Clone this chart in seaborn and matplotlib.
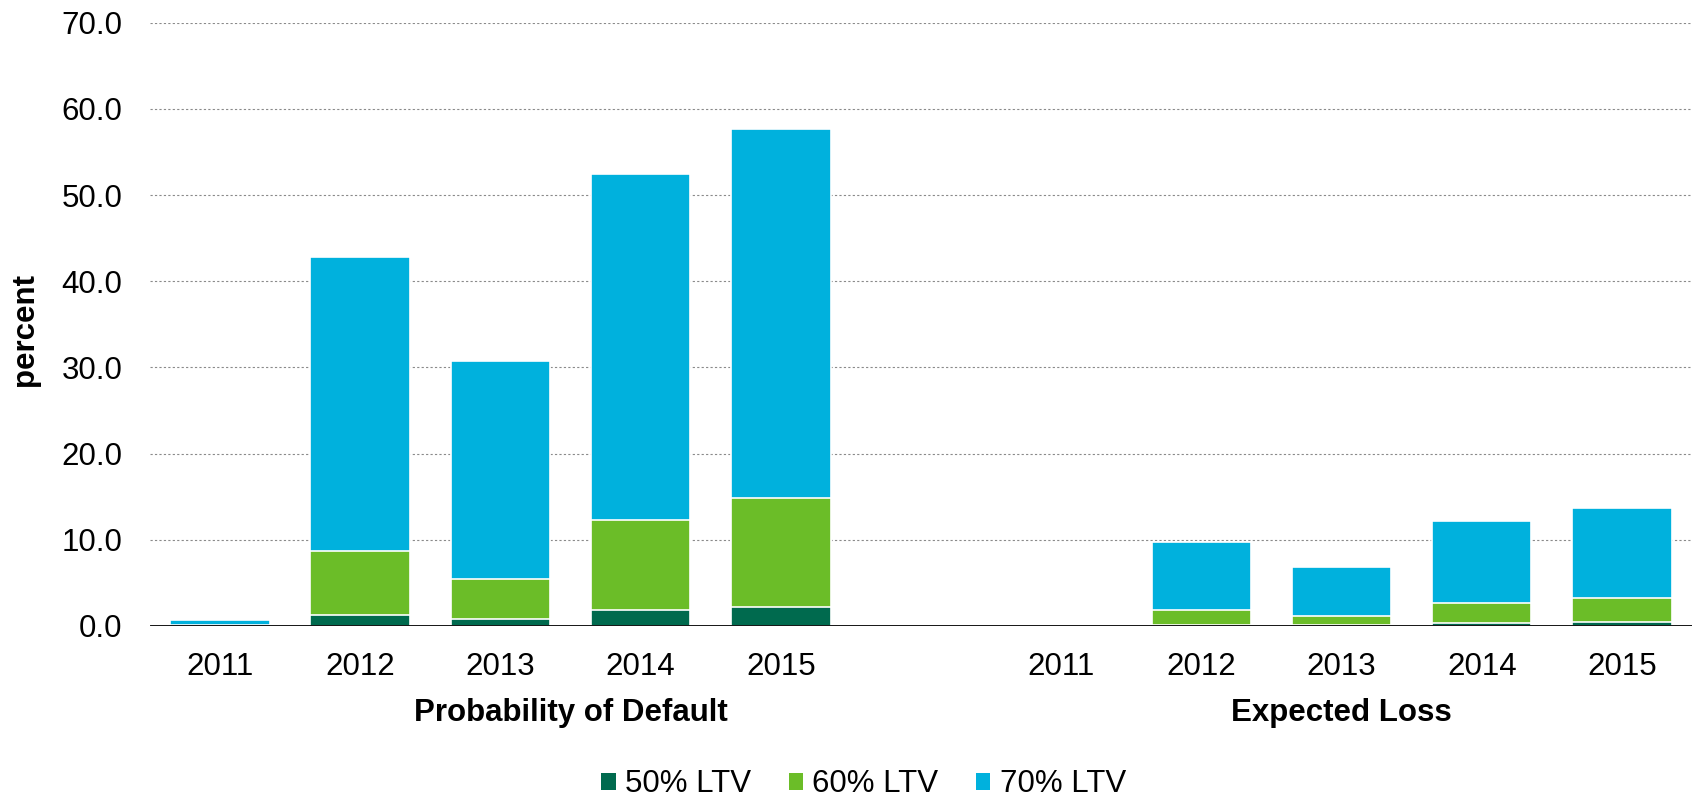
import seaborn as sns
import matplotlib.pyplot as plt
import matplotlib.transforms as mtransforms
from matplotlib.patches import Patch
import pandas as pd

# datos (porcentaje)
years = ["2011", "2012", "2013", "2014", "2015"]
groups = ["Probability of Default", "Expected Loss"]
series = ["50% LTV", "60% LTV", "70% LTV"]

pd_50 = [0.0, 1.3, 0.8, 1.8, 2.2]
pd_60 = [0.1, 7.4, 4.6, 10.5, 12.6]
pd_70 = [0.6, 34.1, 25.4, 40.1, 42.9]

el_50 = [0.0, 0.1, 0.1, 0.4, 0.5]
el_60 = [0.0, 1.8, 1.1, 2.3, 2.8]
el_70 = [0.0, 7.8, 5.6, 9.5, 10.4]

colors = ["#006A4E", "#6BBD28", "#00B1DD"]

# tabla larga con una categoria vacia entre los dos grupos
slots = ["PD " + y for y in years] + ["gap"] + ["EL " + y for y in years]
rows = []
for prefix, s50, s60, s70 in [("PD ", pd_50, pd_60, pd_70), ("EL ", el_50, el_60, el_70)]:
    for i, y in enumerate(years):
        rows.append({"slot": prefix + y, "v50": s50[i], "v60": s60[i], "v70": s70[i]})
df = pd.DataFrame(rows)
df["top50"] = df["v50"]
df["top60"] = df["v50"] + df["v60"]
df["top70"] = df["top60"] + df["v70"]

sns.set_style("white")
plt.rcParams["font.family"] = ["Liberation Sans", "DejaVu Sans"]
plt.rcParams["text.color"] = "black"
plt.rcParams["xtick.color"] = "black"
plt.rcParams["ytick.color"] = "black"

fig, ax = plt.subplots(figsize=(17, 7.97), dpi=100)
fig.subplots_adjust(left=0.0882, right=0.9953, bottom=0.2146, top=0.9715)

# barras apiladas: se dibuja el total primero y encima los acumulados menores
for col, c in zip(["top70", "top60", "top50"], colors[::-1]):
    sns.barplot(data=df, x="slot", y=col, order=slots, color=c, saturation=1,
                width=0.71, edgecolor="white", linewidth=1.2, ax=ax, zorder=3)

ax.set_ylim(0, 70)
ax.set_xlim(-0.5, len(slots) - 0.5)
ax.set_yticks(range(0, 71, 10))
ax.set_yticklabels([f"{v:.1f}" for v in range(0, 71, 10)])
ticks = [i for i, s in enumerate(slots) if s != "gap"]
ax.set_xticks(ticks)
ax.set_xticklabels(years + years)
ax.tick_params(axis="y", length=0, pad=20, labelsize=22.5)
ax.tick_params(axis="x", length=0, pad=19, labelsize=22.5)
ax.set_xlabel("")
ax.set_ylabel("")

for sp in ax.spines.values():
    sp.set_visible(False)
ax.grid(axis="y", color="#8a8a8a", linestyle=(0, (2, 2)), linewidth=0.8, zorder=0)
ax.grid(axis="x", visible=False)
ax.axhline(0, color="black", linewidth=2, zorder=4)

fig.text(25 / 1700, 1 - 330 / 797, "percent", rotation=90, ha="center", va="center",
         fontsize=22.5, fontweight="bold")

trans = mtransforms.blended_transform_factory(ax.transData, ax.transAxes)
ax.text(2.5, -0.145, groups[0], transform=trans, ha="center", va="center",
        fontsize=22.5, fontweight="bold")
ax.text(8, -0.145, groups[1], transform=trans, ha="center", va="center",
        fontsize=22.5, fontweight="bold")

handles = [Patch(facecolor=c, edgecolor="none") for c in colors]
fig.legend(handles, series, loc="center", bbox_to_anchor=(0.508, 0.016), ncol=3,
           frameon=False, fontsize=22.5, handlelength=0.46, handleheight=0.46,
           handletextpad=0.3, columnspacing=1.2)

fig.savefig("out.png", dpi=100)
